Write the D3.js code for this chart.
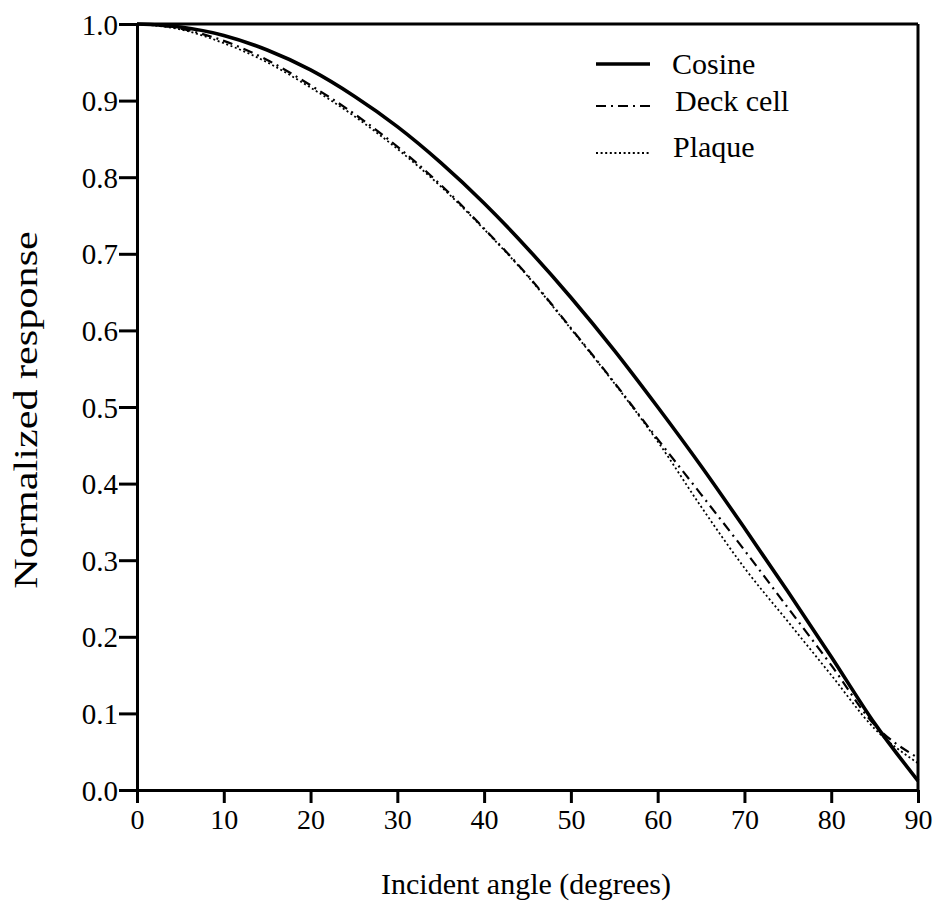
<!DOCTYPE html>
<html>
<head>
<meta charset="utf-8">
<script src="https://cdn.jsdelivr.net/npm/d3@7"></script>
<style>
  html, body { margin: 0; padding: 0; background: #fff; }
  text { font-family: "Liberation Serif", "DejaVu Serif", serif; fill: #000; }
</style>
</head>
<body>
<svg id="chart" width="940" height="907"></svg>
<script>
// ---- data ----
const angles   = [0, 5, 10, 15, 20, 25, 30, 35, 40, 45, 50, 55, 60, 65, 70, 75, 80, 85, 90];
const cosine   = [1.0, 0.996, 0.985, 0.966, 0.940, 0.906, 0.866, 0.819, 0.766, 0.707, 0.643, 0.574, 0.500, 0.423, 0.342, 0.259, 0.174, 0.087, 0.012];
const deckCell = [1.0, 0.994, 0.978, 0.953, 0.920, 0.883, 0.840, 0.790, 0.733, 0.672, 0.603, 0.532, 0.458, 0.386, 0.313, 0.238, 0.163, 0.085, 0.042];
const plaque   = [1.0, 0.993, 0.975, 0.950, 0.917, 0.880, 0.837, 0.788, 0.732, 0.671, 0.602, 0.531, 0.455, 0.370, 0.290, 0.220, 0.150, 0.080, 0.035];
const seriesNames = ["Cosine", "Deck cell", "Plaque"];
const xTicks = [0, 10, 20, 30, 40, 50, 60, 70, 80, 90];
const yTicks = [0.0, 0.1, 0.2, 0.3, 0.4, 0.5, 0.6, 0.7, 0.8, 0.9, 1.0];
const xTitle = "Incident angle (degrees)";
const yTitle = "Normalized response";

(function () {
// ---- layout ----
const svg = d3.select("#chart");
const pL = 137, pR = 918, pT = 24, pB = 790;
const x = d3.scaleLinear().domain([0, 90]).range([pL, pR]);
const y = d3.scaleLinear().domain([0, 1]).range([pB, pT]);

const styles = [
  { width: 3.6, dash: null },
  { width: 2.2, dash: "10,5,2,5" },
  { width: 1.8, dash: "2,2.6" }
];
const seriesData = [cosine, deckCell, plaque];

// axes
const xAxis = svg.append("g").attr("transform", `translate(0,${pB})`)
  .call(d3.axisBottom(x).tickValues(xTicks).tickFormat(d3.format("d")).tickSize(13).tickSizeOuter(0));
const yAxis = svg.append("g").attr("transform", `translate(${pL},0)`)
  .call(d3.axisLeft(y).tickValues(yTicks).tickFormat(d3.format(".1f")).tickSize(18).tickSizeOuter(0));
[xAxis, yAxis].forEach(g => {
  g.select(".domain").attr("stroke", "#000").attr("stroke-width", 3);
  g.selectAll(".tick line").attr("stroke", "#000").attr("stroke-width", 3);
  g.selectAll(".tick text").style("font-family", "'Liberation Serif', serif").attr("fill", "#000");
});
xAxis.selectAll(".tick text").style("font-size", "28px").attr("dy", "0.71em").attr("y", 19);
yAxis.selectAll(".tick text").style("font-size", "29px").attr("x", -19).attr("dy", "0.35em");

// frame (top and right)
svg.append("line").attr("x1", pL).attr("x2", pR).attr("y1", pT).attr("y2", pT)
  .attr("stroke", "#000").attr("stroke-width", 3);
svg.append("line").attr("x1", pR).attr("x2", pR).attr("y1", pT).attr("y2", pB)
  .attr("stroke", "#000").attr("stroke-width", 3);

// lines
const line = d3.line().x((d, i) => x(angles[i])).y(d => y(d)).curve(d3.curveMonotoneX);
seriesData.forEach((s, k) => {
  svg.append("path").datum(s)
    .attr("d", line)
    .attr("fill", "none")
    .attr("stroke", "#000")
    .attr("stroke-width", styles[k].width)
    .attr("stroke-dasharray", styles[k].dash);
});

// legend
const legY = [64, 106, 153];
const legTextY = [74, 111, 157];
const legTextX = [672, 675, 673];
seriesNames.forEach((name, k) => {
  svg.append("line").attr("x1", 596).attr("x2", 650).attr("y1", legY[k]).attr("y2", legY[k])
    .attr("stroke", "#000").attr("stroke-width", styles[k].width)
    .attr("stroke-dasharray", styles[k].dash);
  svg.append("text").attr("x", legTextX[k]).attr("y", legTextY[k]).style("font-size", "30px").text(name);
});

// titles
svg.append("text").attr("x", 526).attr("y", 894)
  .attr("text-anchor", "middle").style("font-size", "30px").text(xTitle);
svg.append("text").attr("transform", `translate(37,410) rotate(-90) scale(1.28,1)`)
  .attr("text-anchor", "middle").style("font-size", "33px").text(yTitle);
})();
</script>
</body>
</html>
